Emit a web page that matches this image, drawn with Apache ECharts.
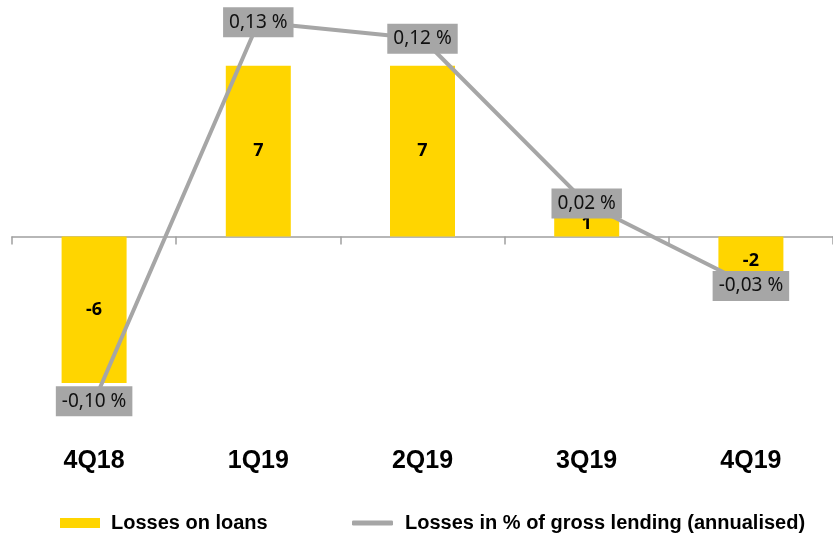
<!DOCTYPE html>
<html>
<head>
<meta charset="utf-8">
<script src="https://cdn.jsdelivr.net/npm/echarts@6/dist/echarts.min.js"></script>
<style>
  html, body { margin: 0; padding: 0; background: #ffffff; }
  #chart { width: 833px; height: 536px; }
</style>
</head>
<body>
<div id="chart"></div>
<script>
// Quarterly loan losses (bars) and loss ratio (line)
const quarters = ['4Q18', '1Q19', '2Q19', '3Q19', '4Q19'];
const lossesOnLoans = [-6, 7, 7, 1, -2];
const lossRatePct = [-0.10, 0.13, 0.12, 0.02, -0.03];
const seriesNames = ['Losses on loans', 'Losses in % of gross lending (annualised)'];

const YELLOW = '#ffd500';
const GREY = '#a6a6a6';
const AXIS_GREY = '#a0a0a0';

const chart = echarts.init(document.getElementById('chart'), null, { renderer: 'canvas' });

const pct = v => v.toFixed(2).replace('.', ',') + ' %';

chart.setOption({
  animation: false,
  backgroundColor: '#ffffff',
  grid: { left: 12, top: 10, width: 825, height: 420, containLabel: false },
  legend: [
    {
      data: [{ name: seriesNames[0], icon: 'rect' }],
      left: 55, top: 508,
      itemWidth: 40, itemHeight: 10,
      selectedMode: false,
      textStyle: { fontFamily: 'Liberation Sans, Arial, sans-serif', fontWeight: 'bold', fontSize: 20, color: '#000', padding: [0, 0, 0, 6] }
    },
    {
      data: [{ name: seriesNames[1], icon: 'roundRect' }],
      left: 347, top: 508,
      itemWidth: 41, itemHeight: 5,
      selectedMode: false,
      textStyle: { fontFamily: 'Liberation Sans, Arial, sans-serif', fontWeight: 'bold', fontSize: 20, color: '#000', padding: [0, 0, 0, 7] }
    }
  ],
  xAxis: [
    {
      type: 'category',
      data: quarters,
      boundaryGap: true,
      axisLine: { show: true, onZero: true, onZeroAxisIndex: 0, lineStyle: { color: AXIS_GREY, width: 1.5 } },
      axisTick: { show: true, length: 8, lineStyle: { color: AXIS_GREY, width: 1.5 } },
      axisLabel: { show: false },
      splitLine: { show: false }
    },
    {
      type: 'category',
      data: quarters,
      position: 'bottom',
      boundaryGap: true,
      axisLine: { show: false, onZero: false },
      axisTick: { show: false },
      axisLabel: {
        show: true, margin: 19,
        fontFamily: 'Liberation Sans, Arial, sans-serif', fontWeight: 'bold', fontSize: 25, color: '#000'
      },
      splitLine: { show: false }
    }
  ],
  yAxis: [
    { type: 'value', min: -7.93, max: 9.283, show: false, splitLine: { show: false } },
    { type: 'value', min: -0.11742, max: 0.13744, show: false, splitLine: { show: false } }
  ],
  series: [
    {
      name: seriesNames[0],
      type: 'bar',
      xAxisIndex: 0, yAxisIndex: 0,
      data: lossesOnLoans,
      barWidth: 65,
      itemStyle: { color: YELLOW },
      label: {
        show: true, position: 'inside',
        formatter: p => String(p.value),
        fontFamily: 'Noto Sans, sans-serif', fontWeight: 'bold', fontSize: 18, color: '#000'
      },
      z: 2
    },
    {
      name: seriesNames[1],
      type: 'line',
      xAxisIndex: 0, yAxisIndex: 1,
      data: lossRatePct,
      symbol: 'circle', symbolSize: 1,
      itemStyle: { color: GREY },
      lineStyle: { color: GREY, width: 4 },
      label: {
        show: true, position: 'inside',
        formatter: p => pct(p.value),
        backgroundColor: GREY,
        padding: [6, 6, 5, 6],
        fontFamily: 'Noto Sans, sans-serif', fontSize: 19, color: '#111'
      },
      z: 3
    }
  ]
});
</script>
</body>
</html>
